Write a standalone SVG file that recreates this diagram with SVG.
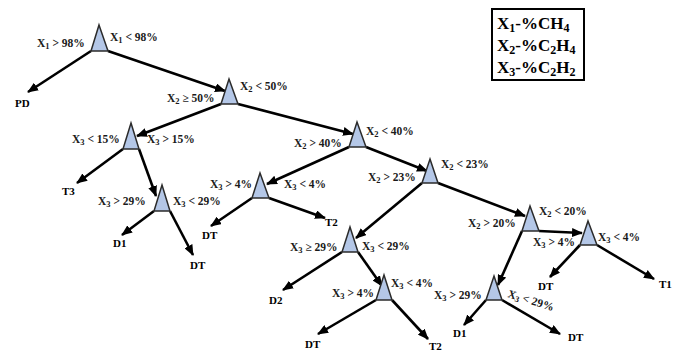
<svg xmlns="http://www.w3.org/2000/svg" width="678" height="352" viewBox="0 0 678 352">
<defs>
<marker id="ah" markerUnits="userSpaceOnUse" markerWidth="11" markerHeight="9" refX="10" refY="4.5" orient="auto">
<path d="M0,0 L11,4.5 L0,9 z" fill="#000"/>
</marker>
<style>
.tri{fill:#b4c7e7;stroke:#2b2b2b;stroke-width:1.5;stroke-linejoin:miter}
.c{stroke:#000;stroke-width:2.6;fill:none;marker-end:url(#ah)}
.l{font-family:"Liberation Serif","DejaVu Serif",serif;font-weight:bold;font-size:11.5px;fill:#1a1a1a}
.s{font-size:8.5px}
.lf{font-family:"Liberation Serif","DejaVu Serif",serif;font-weight:bold;font-size:11px;fill:#000}
.lg{font-family:"Liberation Serif","DejaVu Serif",serif;font-weight:bold;font-size:17px;fill:#000}
.lgs{font-size:12px}
</style>
</defs>
<rect width="678" height="352" fill="#fff"/>

<g id="connectors">
<line class="c" x1="91" y1="51" x2="28" y2="92"/>
<line class="c" x1="108" y1="51" x2="225" y2="91"/>
<line class="c" x1="221" y1="104" x2="137" y2="136"/>
<line class="c" x1="238" y1="104" x2="353" y2="134"/>
<line class="c" x1="123" y1="149" x2="77" y2="183"/>
<line class="c" x1="139" y1="149" x2="156" y2="196"/>
<line class="c" x1="154" y1="211" x2="122" y2="235"/>
<line class="c" x1="170" y1="211" x2="193" y2="255"/>
<line class="c" x1="349" y1="147" x2="267" y2="184"/>
<line class="c" x1="366" y1="147" x2="427" y2="171"/>
<line class="c" x1="252" y1="198" x2="211" y2="226"/>
<line class="c" x1="269" y1="198" x2="325" y2="218"/>
<line class="c" x1="422" y1="183" x2="356" y2="238"/>
<line class="c" x1="438" y1="183" x2="525" y2="216"/>
<line class="c" x1="342" y1="252" x2="283" y2="290"/>
<line class="c" x1="358" y1="252" x2="382" y2="286"/>
<line class="c" x1="376" y1="300" x2="318" y2="334"/>
<line class="c" x1="392" y1="300" x2="428" y2="339"/>
<line class="c" x1="522" y1="231" x2="498" y2="285"/>
<line class="c" x1="539" y1="231" x2="582" y2="233"/>
<line class="c" x1="580" y1="245" x2="550" y2="277"/>
<line class="c" x1="597" y1="245" x2="654" y2="279"/>
<line class="c" x1="486" y1="300" x2="464" y2="325"/>
<line class="c" x1="502" y1="300" x2="560" y2="334"/>
</g>

<g id="n1"><polygon class="tri" points="99,25 108,51 91,51"/>
<text class="l" x="37" y="47">X<tspan class="s" dy="2">1</tspan><tspan dy="-2"> &gt; 98%</tspan></text>
<text class="l" x="110" y="41">X<tspan class="s" dy="2">1</tspan><tspan dy="-2"> &lt; 98%</tspan></text></g>

<g id="n2"><polygon class="tri" points="229,79 238,104 221,104"/>
<text class="l" x="167" y="102">X<tspan class="s" dy="2">2</tspan><tspan dy="-2"> ≥ 50%</tspan></text>
<text class="l" x="240" y="90">X<tspan class="s" dy="2">2</tspan><tspan dy="-2"> &lt; 50%</tspan></text></g>

<g id="n3"><polygon class="tri" points="131,123 139,149 123,149"/>
<text class="l" x="72" y="143">X<tspan class="s" dy="2">3</tspan><tspan dy="-2"> &lt; 15%</tspan></text>
<text class="l" x="147" y="143">X<tspan class="s" dy="2">3</tspan><tspan dy="-2"> &gt; 15%</tspan></text></g>

<g id="n4"><polygon class="tri" points="162,185 170,211 154,211"/>
<text class="l" x="98" y="205">X<tspan class="s" dy="2">3</tspan><tspan dy="-2"> &gt; 29%</tspan></text>
<text class="l" x="173" y="205">X<tspan class="s" dy="2">3</tspan><tspan dy="-2"> &lt; 29%</tspan></text></g>

<g id="n5"><polygon class="tri" points="357,122 366,147 349,147"/>
<text class="l" x="294" y="147">X<tspan class="s" dy="2">2</tspan><tspan dy="-2"> &gt; 40%</tspan></text>
<text class="l" x="366" y="135">X<tspan class="s" dy="2">2</tspan><tspan dy="-2"> &lt; 40%</tspan></text></g>

<g id="n6"><polygon class="tri" points="260,173 269,198 252,198"/>
<text class="l" x="210" y="188">X<tspan class="s" dy="2">3</tspan><tspan dy="-2"> &gt; 4%</tspan></text>
<text class="l" x="284" y="188">X<tspan class="s" dy="2">3</tspan><tspan dy="-2"> &lt; 4%</tspan></text></g>

<g id="n7"><polygon class="tri" points="430,159 438,183 422,183"/>
<text class="l" x="368" y="181">X<tspan class="s" dy="2">2</tspan><tspan dy="-2"> &gt; 23%</tspan></text>
<text class="l" x="441" y="168">X<tspan class="s" dy="2">2</tspan><tspan dy="-2"> &lt; 23%</tspan></text></g>

<g id="n8"><polygon class="tri" points="350,227 358,252 342,252"/>
<text class="l" x="290" y="251">X<tspan class="s" dy="2">3</tspan><tspan dy="-2"> ≥ 29%</tspan></text>
<text class="l" x="362" y="250">X<tspan class="s" dy="2">3</tspan><tspan dy="-2"> &lt; 29%</tspan></text></g>

<g id="n9"><polygon class="tri" points="384,275 392,300 376,300"/>
<text class="l" x="332" y="297">X<tspan class="s" dy="2">3</tspan><tspan dy="-2"> &gt; 4%</tspan></text>
<text class="l" x="391" y="287">X<tspan class="s" dy="2">3</tspan><tspan dy="-2"> &lt; 4%</tspan></text></g>

<g id="n10"><polygon class="tri" points="530,206 539,231 522,231"/>
<text class="l" x="468" y="227">X<tspan class="s" dy="2">2</tspan><tspan dy="-2"> &gt; 20%</tspan></text>
<text class="l" x="539" y="215">X<tspan class="s" dy="2">2</tspan><tspan dy="-2"> &lt; 20%</tspan></text></g>

<g id="n11"><polygon class="tri" points="588,221 597,245 580,245"/>
<text class="l" x="533" y="246">X<tspan class="s" dy="2">3</tspan><tspan dy="-2"> &gt; 4%</tspan></text>
<text class="l" x="598" y="241">X<tspan class="s" dy="2">3</tspan><tspan dy="-2"> &lt; 4%</tspan></text></g>

<g id="n12"><polygon class="tri" points="494,276 502,300 486,300"/>
<text class="l" x="434" y="299">X<tspan class="s" dy="2">3</tspan><tspan dy="-2"> &gt; 29%</tspan></text>
<text class="l" x="507" y="297" transform="rotate(17 507 297)">X<tspan class="s" dy="2">3</tspan><tspan dy="-2"> &lt; 29%</tspan></text></g>

<g id="leaves">
<text class="lf" x="15" y="107">PD</text>
<text class="lf" x="62" y="195">T3</text>
<text class="lf" x="113" y="247">D1</text>
<text class="lf" x="190" y="269">DT</text>
<text class="lf" x="202" y="239">DT</text>
<text class="lf" x="325" y="226">T2</text>
<text class="lf" x="269" y="304">D2</text>
<text class="lf" x="305" y="348">DT</text>
<text class="lf" x="429" y="350">T2</text>
<text class="lf" x="453" y="337">D1</text>
<text class="lf" x="568" y="341">DT</text>
<text class="lf" x="538" y="290">DT</text>
<text class="lf" x="659" y="288">T1</text>
</g>

<g id="legend">
<rect x="492" y="9" width="92" height="71" fill="#fff" stroke="#000" stroke-width="2"/>
<text class="lg" x="497" y="29">X<tspan class="lgs" dy="3">1</tspan><tspan dy="-3">-%CH</tspan><tspan class="lgs" dy="3">4</tspan></text>
<text class="lg" x="497" y="51">X<tspan class="lgs" dy="3">2</tspan><tspan dy="-3">-%C</tspan><tspan class="lgs" dy="3">2</tspan><tspan dy="-3">H</tspan><tspan class="lgs" dy="3">4</tspan></text>
<text class="lg" x="497" y="73">X<tspan class="lgs" dy="3">3</tspan><tspan dy="-3">-%C</tspan><tspan class="lgs" dy="3">2</tspan><tspan dy="-3">H</tspan><tspan class="lgs" dy="3">2</tspan></text>
</g>
</svg>
